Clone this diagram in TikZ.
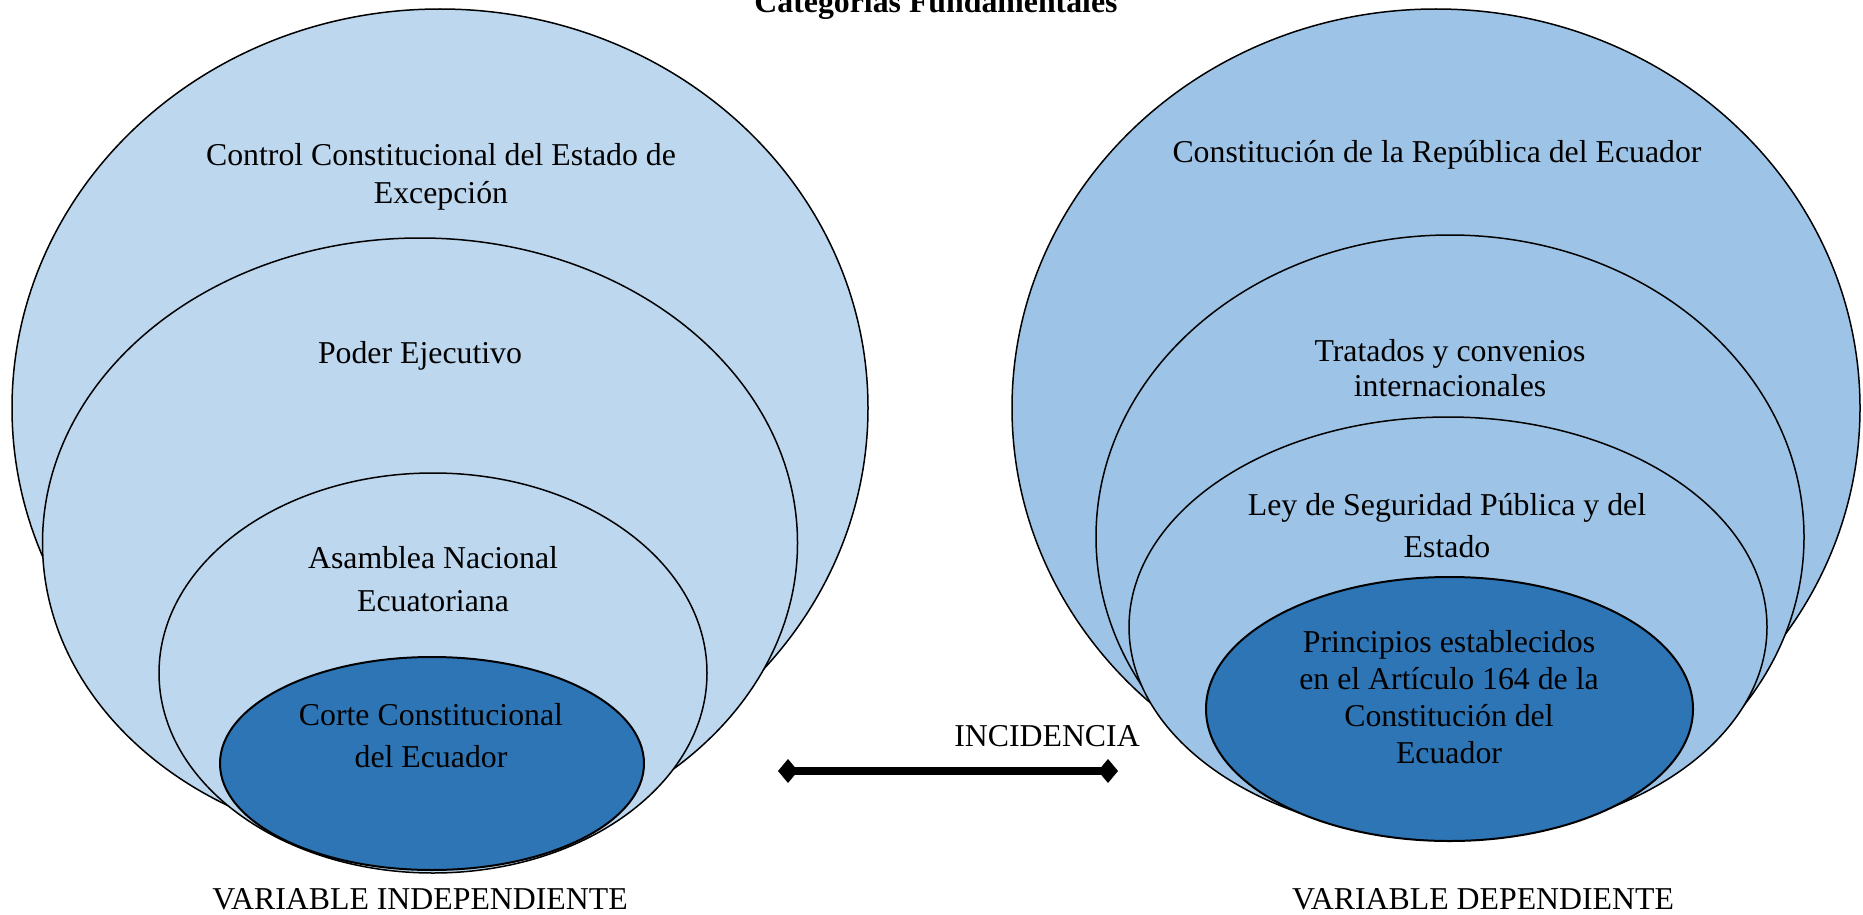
\documentclass[tikz,border=0pt]{standalone}
\usepackage{fontspec}
\setmainfont{Liberation Serif}
\usetikzlibrary{shapes.geometric,arrows.meta}
\definecolor{lightL}{HTML}{BDD7EE}
\definecolor{lightR}{HTML}{9DC3E6}
\definecolor{darkB}{HTML}{2E75B6}
\begin{document}
\begin{tikzpicture}[x=1pt,y=-1pt,
  ell/.style={ellipse, draw=black, line width=1.5pt, inner sep=0pt, outer sep=0pt},
  lab/.style={align=center, anchor=base, inner sep=0pt, font=\fontsize{31.8}{#1}\selectfont},
  lab/.default=38,
]
\useasboundingbox (0,0) rectangle (1863,915);
% left set
\node[ell, fill=lightL, minimum width=856pt, minimum height=798pt] (e1) at (440,408) {};
\node[ell, fill=lightL, minimum width=755pt, minimum height=610pt] (e2) at (420,543) {};
\node[ell, fill=lightL, minimum width=548pt, minimum height=400pt] (e3) at (433,673) {};
\node[ell, fill=darkB, line width=2pt, minimum width=424pt, minimum height=213pt] (e4) at (432,763.5) {};
% right set
\node[ell, fill=lightR, minimum width=848pt, minimum height=798pt] (e5) at (1436,408) {};
\node[ell, fill=lightR, minimum width=708pt, minimum height=604pt] (e6) at (1450,537) {};
\node[ell, fill=lightR, minimum width=638pt, minimum height=420pt] (e7) at (1448,627) {};
\node[ell, fill=darkB, line width=2pt, minimum width=487pt, minimum height=264pt] (e8) at (1449.5,709) {};
% labels (anchor base = baseline of the last line)
\node[lab=38] (t1) at (441,203) {Control Constitucional del Estado de\\Excepción};
\node[lab] (t2) at (420,363) {Poder Ejecutivo};
\node[lab=43] (t3) at (433,611) {Asamblea Nacional\\Ecuatoriana};
\node[lab=42] (t4) at (431,767) {Corte Constitucional\\del Ecuador};
\node[lab] (t5) at (1437,163) {Constitución de la República del Ecuador};
\node[lab=35] (t6) at (1450,396) {Tratados y convenios\\internacionales};
\node[lab=42] (t7) at (1447,557) {Ley de Seguridad Pública y del\\Estado};
\node[lab=37] (t8) at (1449,763) {Principios establecidos\\en el Artículo 164 de la\\Constitución del\\Ecuador};
\node[lab, font=\fontsize{31.8}{38}\selectfont\bfseries] (title) at (936,13) {Categorías Fundamentales};
\node[lab] (inc) at (1047,746) {INCIDENCIA};
\node[lab] (vi) at (420,909) {VARIABLE INDEPENDIENTE};
\node[lab] (vd) at (1483,909) {VARIABLE DEPENDIENTE};
% connector
\coordinate (al) at (778,771);
\coordinate (ar) at (1118,771);
\draw[line width=8.5pt, {Diamond[length=20pt,width=24pt]}-{Diamond[length=20pt,width=24pt]}] (al) -- (ar);
\end{tikzpicture}
\end{document}
